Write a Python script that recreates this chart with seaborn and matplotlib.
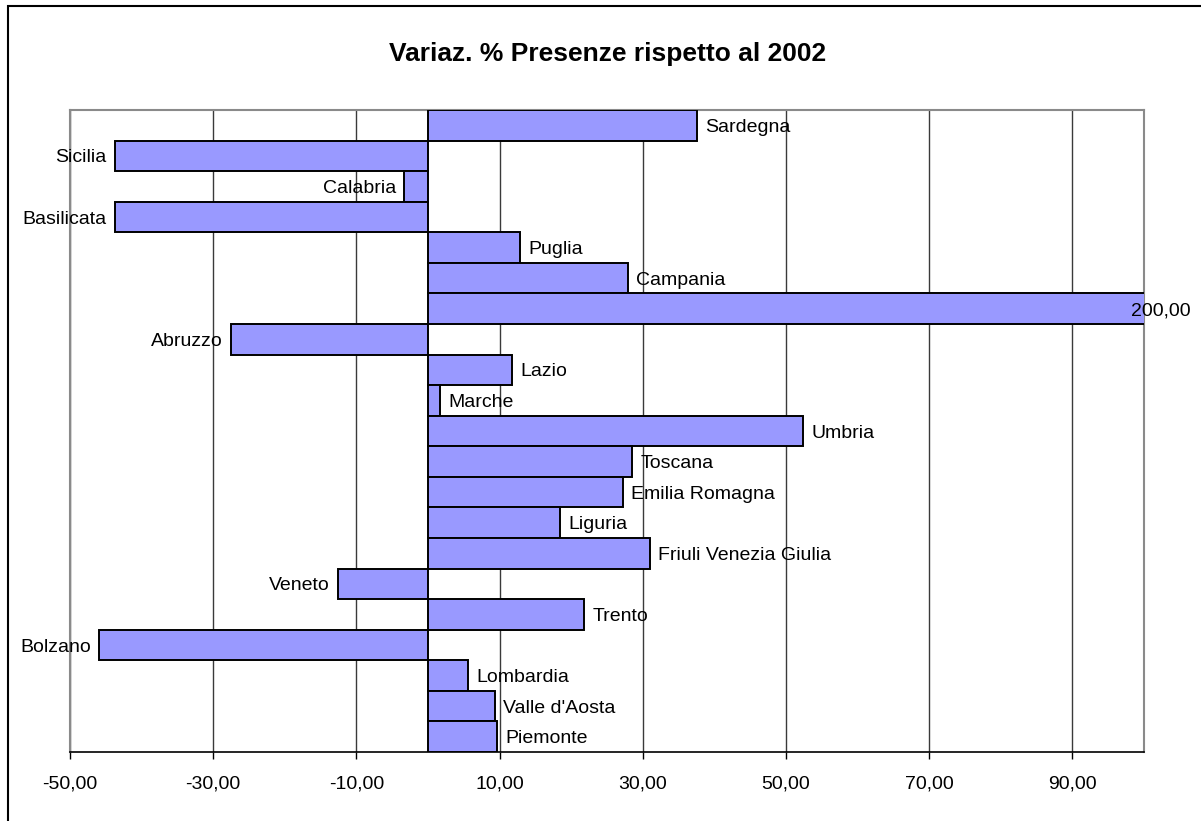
import matplotlib
matplotlib.use("Agg")
import matplotlib.pyplot as plt
import seaborn as sns
import pandas as pd
from matplotlib.patches import Rectangle

# regions from top to bottom of the chart
regions = ["Sardegna", "Sicilia", "Calabria", "Basilicata", "Puglia", "Campania",
           "Molise", "Abruzzo", "Lazio", "Marche", "Umbria", "Toscana",
           "Emilia Romagna", "Liguria", "Friuli Venezia Giulia", "Veneto",
           "Trento", "Bolzano", "Lombardia", "Valle d'Aosta", "Piemonte"]
variaz = [37.5, -43.7, -3.3, -43.7, 12.8, 27.9,
          200.0, -27.5, 11.7, 1.7, 52.4, 28.5,
          27.2, 18.4, 31.0, -12.6,
          21.8, -45.9, 5.6, 9.3, 9.6]
# text shown next to each bar (Molise shows its value instead of its name)
bar_labels = ["Sardegna", "Sicilia", "Calabria", "Basilicata", "Puglia", "Campania",
              "200,00", "Abruzzo", "Lazio", "Marche", "Umbria", "Toscana",
              "Emilia Romagna", "Liguria", "Friuli Venezia Giulia", "Veneto",
              "Trento", "Bolzano", "Lombardia", "Valle d'Aosta", "Piemonte"]
x_ticks = [-50, -30, -10, 10, 30, 50, 70, 90]
x_min, x_max = -50, 100

df = pd.DataFrame({"regione": regions, "variaz": variaz})

sns.set_theme(style="white")
plt.rcParams["font.family"] = ["Liberation Sans", "DejaVu Sans"]
plt.rcParams["text.color"] = "black"
plt.rcParams["xtick.color"] = "black"
plt.rcParams["xtick.labelcolor"] = "black"

fig = plt.figure(figsize=(12.01, 8.21), dpi=100)
ax = fig.add_axes([70 / 1201, 1 - 752 / 821, (1144 - 70) / 1201, (752 - 110) / 821])

sns.barplot(data=df, x="variaz", y="regione", orient="h", order=regions,
            color="#9999FF", saturation=1, width=1.0, edgecolor="black",
            linewidth=1.4, ax=ax, zorder=3)

ax.set_xlim(x_min, x_max)
ax.set_ylim(len(regions) - 0.5, -0.5)
ax.set_xticks(x_ticks)
ax.set_xticklabels([f"{t:.2f}".replace(".", ",") for t in x_ticks], fontsize=14)
ax.set_yticks([])
ax.set_xlabel("")
ax.set_ylabel("")
ax.xaxis.grid(True, color="#3a3a3a", linewidth=1.0, zorder=0)
ax.set_axisbelow(True)
ax.tick_params(axis="x", direction="out", length=5, width=1, color="black",
               pad=12, bottom=True)

for side in ["top", "right", "left"]:
    ax.spines[side].set_color("#8a8a8a")
    ax.spines[side].set_linewidth(1.5)
ax.spines["bottom"].set_color("black")
ax.spines["bottom"].set_linewidth(1.2)

for i, (val, lab) in enumerate(zip(variaz, bar_labels)):
    if val > x_max:
        ax.annotate(lab, xy=(x_max, i), xytext=(-9, 0), textcoords="offset points",
                    ha="left", va="center_baseline", fontsize=14, zorder=5,
                    annotation_clip=False)
    elif val >= 0:
        ax.annotate(lab, xy=(val, i), xytext=(6, 0), textcoords="offset points",
                    ha="left", va="center_baseline", fontsize=14, zorder=5)
    else:
        ax.annotate(lab, xy=(val, i), xytext=(-6, 0), textcoords="offset points",
                    ha="right", va="center_baseline", fontsize=14, zorder=5)

fig.text(608 / 1201, 1 - 54 / 821, "Variaz. % Presenze rispetto al 2002",
         ha="center", va="center", fontsize=19, fontweight="bold")

fig.patches.append(Rectangle((8 / 1201, -0.1), 1.2, 1 - 6 / 821 + 0.1,
                             transform=fig.transFigure, fill=False,
                             edgecolor="black", linewidth=1.5))

fig.savefig("out.png", dpi=100)
